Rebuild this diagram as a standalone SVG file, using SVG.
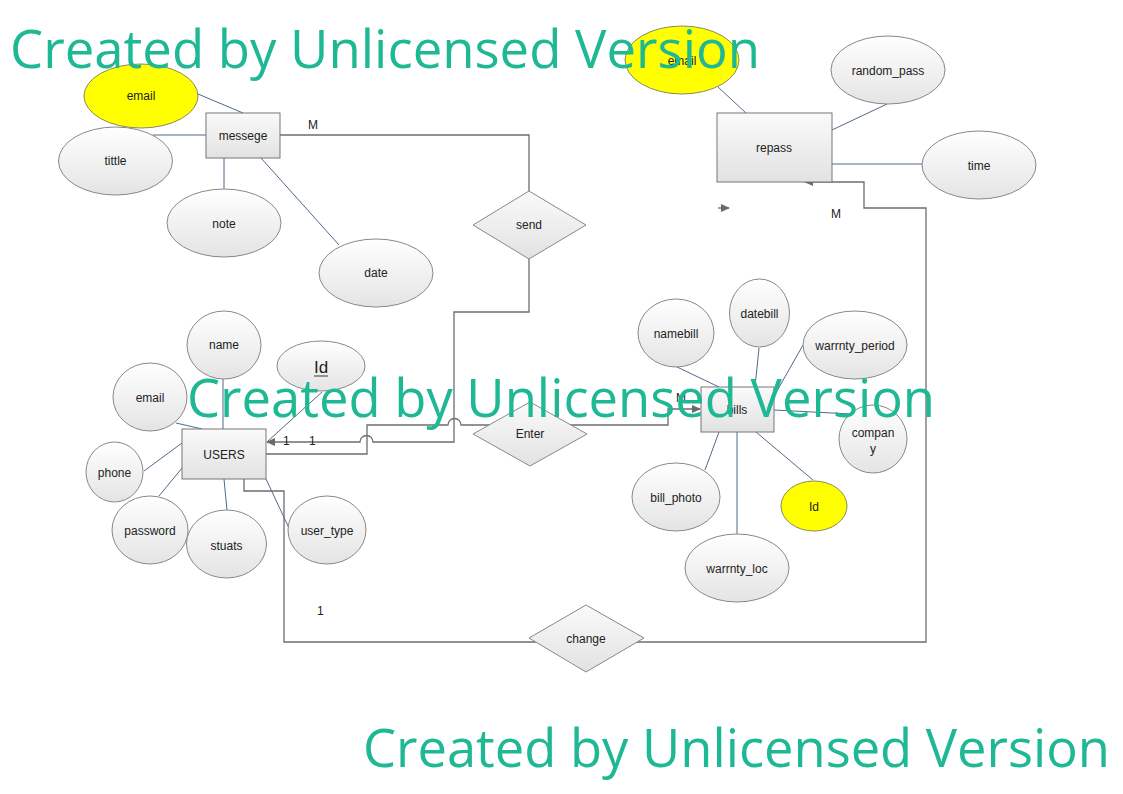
<svg xmlns="http://www.w3.org/2000/svg" width="1123" height="794" viewBox="0 0 1123 794">
<defs>
<linearGradient id="gEl" x1="0" y1="0" x2="0" y2="1"><stop offset="0" stop-color="#ffffff"/><stop offset="1" stop-color="#e4e4e4"/></linearGradient>
<linearGradient id="gRect" x1="0" y1="0" x2="0" y2="1"><stop offset="0" stop-color="#fafafa"/><stop offset="1" stop-color="#e2e2e2"/></linearGradient>
<marker id="arr" markerWidth="9" markerHeight="8" refX="8" refY="4" orient="auto" markerUnits="userSpaceOnUse"><path d="M0,0 L9,4 L0,8 z" fill="#6a6a6a"/></marker>
<style>
.el{fill:url(#gEl);stroke:#888;stroke-width:1}
.yel{fill:#ffff00;stroke:#8a8a5a;stroke-width:1}
.ent{fill:url(#gRect);stroke:#777;stroke-width:1}
.rel{fill:url(#gRect);stroke:#888;stroke-width:1}
.t{font-family:"Liberation Sans",Arial,sans-serif;font-size:12px;fill:#222;text-anchor:middle}
.lab{font-family:"Liberation Sans",Arial,sans-serif;font-size:12px;fill:#222}
.att{stroke:#51698a;stroke-width:1;fill:none}
.con{stroke:#6d6d6d;stroke-width:1.3;fill:none}
.wm{font-family:"Open Sans","Noto Sans",sans-serif;font-size:53px;fill:#1fb894}
</style>
</defs>
<rect width="1123" height="794" fill="#ffffff"/>
<g id="connectors">
<line class="att" x1="198" y1="94" x2="243" y2="113"/>
<line class="att" x1="153" y1="135" x2="206" y2="135"/>
<line class="att" x1="224" y1="158" x2="224" y2="189"/>
<line class="att" x1="261" y1="158" x2="339" y2="245"/>
<line class="att" x1="718" y1="87" x2="746" y2="113"/>
<line class="att" x1="832" y1="130" x2="887" y2="104"/>
<line class="att" x1="832" y1="164" x2="922" y2="164"/>
<line class="att" x1="223" y1="378" x2="223" y2="429"/>
<line class="att" x1="176" y1="423" x2="202" y2="429"/>
<line class="att" x1="322" y1="392" x2="268" y2="441"/>
<line class="att" x1="144" y1="471" x2="182" y2="443"/>
<line class="att" x1="159" y1="496" x2="182" y2="468"/>
<line class="att" x1="224" y1="479" x2="227" y2="510"/>
<line class="att" x1="266" y1="479" x2="289" y2="528"/>
<line class="att" x1="677" y1="367" x2="719" y2="387"/>
<line class="att" x1="759" y1="348" x2="755" y2="387"/>
<line class="att" x1="803" y1="345" x2="773" y2="398"/>
<line class="att" x1="774" y1="410" x2="851" y2="414"/>
<line class="att" x1="719" y1="432" x2="705" y2="470"/>
<line class="att" x1="737" y1="432" x2="737" y2="534"/>
<line class="att" x1="756" y1="432" x2="813" y2="480"/>
<path class="con" d="M280,135 H529 V191"/>
<path class="con" d="M529,259 V312 H454 V442 H373 A6.5,6.5 0 0 0 360,442 H267" marker-end="url(#arr)"/>
<path class="con" d="M266,454 H367 V425 H448 A6.5,6.5 0 0 1 461,425 H540"/>
<path class="con" d="M560,425 H668 V409 H700" marker-end="url(#arr)"/>
<path class="con" d="M244,479 V491 H284 V642 H560"/>
<path class="con" d="M610,642 H926 V208 H864 V182 H805" marker-end="url(#arr)"/>
<path class="con" d="M718,208 H729" marker-end="url(#arr)"/>
<text class="lab" x="308" y="129">M</text>
<text class="lab" x="283" y="445">1</text>
<text class="lab" x="309" y="445">1</text>
<text class="lab" x="676" y="402">M</text>
<text class="lab" x="831" y="218">M</text>
<text class="lab" x="317" y="615">1</text>
</g>
<g id="send"><path class="rel" d="M529,191 L586,225 L529,259 L473,225 z"/><text class="t" x="529" y="229">send</text></g>
<g id="enter"><path class="rel" d="M530,402 L587,434 L530,466 L473,434 z"/><text class="t" x="530" y="438">Enter</text></g>
<g id="change"><path class="rel" d="M586,605 L644,638 L586,672 L529,638 z"/><text class="t" x="586" y="643">change</text></g>
<g id="messege"><rect class="ent" x="206" y="113" width="74" height="45"/><text class="t" x="243" y="140">messege</text></g>
<g id="messege_email"><ellipse class="yel" cx="141" cy="96" rx="57" ry="32"/><text class="t" x="141" y="100">email</text></g>
<g id="tittle"><ellipse class="el" cx="115.5" cy="161" rx="57" ry="34"/><text class="t" x="115.5" y="165">tittle</text></g>
<g id="note"><ellipse class="el" cx="224" cy="223" rx="57" ry="34"/><text class="t" x="224" y="228">note</text></g>
<g id="date"><ellipse class="el" cx="376" cy="273" rx="57" ry="34"/><text class="t" x="376" y="277">date</text></g>
<g id="repass"><rect class="ent" x="717" y="113" width="115" height="69"/><text class="t" x="774" y="152">repass</text></g>
<g id="repass_email"><ellipse class="yel" cx="682" cy="60" rx="57" ry="34"/><text class="t" x="682" y="65">email</text></g>
<g id="random_pass"><ellipse class="el" cx="888" cy="70" rx="57" ry="34"/><text class="t" x="888" y="75">random_pass</text></g>
<g id="time"><ellipse class="el" cx="979" cy="165" rx="57" ry="34"/><text class="t" x="979" y="170">time</text></g>
<g id="users"><rect class="ent" x="182" y="429" width="84" height="50"/><text class="t" x="224" y="459">USERS</text></g>
<g id="name"><ellipse class="el" cx="224" cy="345" rx="37" ry="34"/><text class="t" x="224" y="349">name</text></g>
<g id="users_id"><ellipse class="el" cx="321" cy="366" rx="44" ry="25"/><text class="t" x="321" y="373" style="font-size:17px">Id</text><line x1="314" y1="376" x2="328" y2="376" stroke="#555" stroke-width="1.2"/></g>
<g id="users_email"><ellipse class="el" cx="150" cy="397" rx="37" ry="34"/><text class="t" x="150" y="402">email</text></g>
<g id="phone"><ellipse class="el" cx="114.5" cy="472" rx="28.5" ry="30"/><text class="t" x="114.5" y="477">phone</text></g>
<g id="password"><ellipse class="el" cx="150" cy="530" rx="38" ry="34"/><text class="t" x="150" y="535">password</text></g>
<g id="stuats"><ellipse class="el" cx="226.5" cy="544" rx="40" ry="34"/><text class="t" x="226.5" y="550">stuats</text></g>
<g id="user_type"><ellipse class="el" cx="327" cy="530" rx="39" ry="34"/><text class="t" x="327" y="535">user_type</text></g>
<g id="bills"><rect class="ent" x="701" y="387" width="73" height="45"/><text class="t" x="737" y="414">bills</text></g>
<g id="namebill"><ellipse class="el" cx="676" cy="333" rx="38" ry="34"/><text class="t" x="676" y="338">namebill</text></g>
<g id="datebill"><ellipse class="el" cx="759.5" cy="313" rx="30" ry="34"/><text class="t" x="759.5" y="318">datebill</text></g>
<g id="warrnty_period"><ellipse class="el" cx="855" cy="345" rx="52" ry="34"/><text class="t" x="855" y="350">warrnty_period</text></g>
<g id="company"><ellipse class="el" cx="873" cy="439" rx="34" ry="34"/><text class="t" x="873" y="437">compan</text><text class="t" x="873" y="453">y</text></g>
<g id="bill_photo"><ellipse class="el" cx="676" cy="497" rx="44" ry="34"/><text class="t" x="676" y="502">bill_photo</text></g>
<g id="bills_id"><ellipse class="yel" cx="814" cy="506" rx="33" ry="25"/><text class="t" x="814" y="511">Id</text></g>
<g id="warrnty_loc"><ellipse class="el" cx="737" cy="568" rx="52" ry="34"/><text class="t" x="737" y="573">warrnty_loc</text></g>
<g id="watermarks">
<text class="wm" x="10" y="68" textLength="750" lengthAdjust="spacingAndGlyphs">Created by Unlicensed Version</text>
<text class="wm" x="187" y="417" textLength="748" lengthAdjust="spacingAndGlyphs">Created by Unlicensed Version</text>
<text class="wm" x="363" y="767" textLength="747" lengthAdjust="spacingAndGlyphs">Created by Unlicensed Version</text>
</g>
</svg>
